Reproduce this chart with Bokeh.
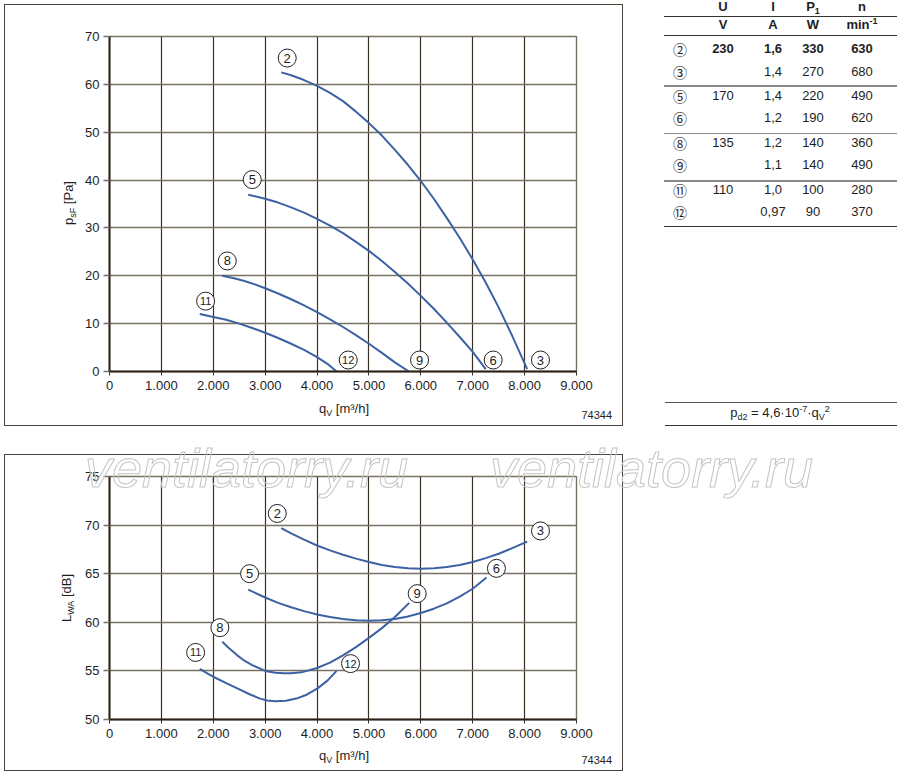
from bokeh.plotting import figure
from bokeh.models import FixedTicker, Div, Range1d
from bokeh.layouts import column
from bokeh.embed import file_html
from bokeh.resources import INLINE
from bokeh.core.properties import value

FONT = "Liberation Sans"
TXT = "#1e1e1e"
BLUE = "#3c62a4"
VGRID = "#3a3024"
HGRID = "#7a7165"
AXIS = "#2a2216"
BORDER = "#4a443a"

# ---------------- data ----------------
x_ticks = [0, 1000, 2000, 3000, 4000, 5000, 6000, 7000, 8000, 9000]
x_tick_labels = ["0", "1.000", "2.000", "3.000", "4.000", "5.000", "6.000", "7.000", "8.000", "9.000"]
p_ticks = [0, 10, 20, 30, 40, 50, 60, 70]
L_ticks = [50, 55, 60, 65, 70, 75]

curve_ids = ["2", "3", "5", "6", "8", "9", "11", "12"]

# static pressure p_sF [Pa] vs q_V [m3/h] (top)
psf_q_2 = [3310, 3500, 3750, 4000, 4250, 4500, 4750, 5000, 5250, 5500, 5750, 6000, 6250,
           6500, 6750, 7000, 7250, 7500, 7750, 8050]
psf_p_2 = [62.5, 61.9, 60.9, 59.7, 58.2, 56.5, 54.3, 51.9, 49.3, 46.3, 43.2, 39.8, 36.1,
           32.1, 27.9, 23.4, 18.6, 13.4, 7.7, 0.5]
psf_q_5 = [2674, 3000, 3250, 3500, 3750, 4000, 4250, 4500, 4750, 5000, 5250, 5500, 5750,
           6000, 6250, 6500, 6750, 7000, 7250]
psf_p_5 = [36.95, 36.1, 35.3, 34.3, 33.2, 31.9, 30.5, 28.9, 27.1, 25.2, 23.1, 20.8, 18.4,
           15.8, 13.1, 10.2, 7.2, 4.1, 0.5]
psf_q_8 = [2173, 2400, 2600, 2800, 3000, 3250, 3500, 3750, 4000, 4250, 4500, 4750, 5000,
           5250, 5500, 5770]
psf_p_8 = [20.0, 19.5, 18.9, 18.2, 17.4, 16.3, 15.1, 13.8, 12.4, 10.9, 9.3, 7.6, 5.8,
           3.9, 1.9, 0.0]
psf_q_11 = [1740, 2000, 2250, 2500, 2750, 3000, 3250, 3500, 3750, 4000, 4200, 4376]
psf_p_11 = [12.0, 11.4, 10.8, 10.0, 9.1, 8.1, 7.0, 5.8, 4.5, 3.0, 1.6, 0.0]

# sound power L_WA [dB] vs q_V [m3/h] (bottom)
lwa_q_2 = [3310, 3500, 3750, 4000, 4250, 4500, 4750, 5000, 5250, 5500, 5750, 6000, 6250,
           6500, 6750, 7000, 7250, 7500, 7750, 8050]
lwa_L_2 = [69.7, 69.15, 68.5, 67.9, 67.4, 66.95, 66.55, 66.2, 65.9, 65.7, 65.55, 65.5, 65.55,
           65.7, 65.9, 66.2, 66.6, 67.05, 67.6, 68.3]
lwa_q_5 = [2674, 3000, 3250, 3500, 3750, 4000, 4250, 4500, 4750, 5000, 5250, 5500, 5750,
           6000, 6250, 6500, 6750, 7000, 7266]
lwa_L_5 = [63.36, 62.55, 62.0, 61.55, 61.15, 60.8, 60.55, 60.35, 60.2, 60.15, 60.2, 60.35, 60.6,
           60.95, 61.4, 61.95, 62.65, 63.45, 64.6]
lwa_q_8 = [2173, 2300, 2462, 2600, 2750, 3000, 3200, 3360, 3500, 3700, 4000, 4250, 4500,
           4750, 5000, 5250, 5500, 5776]
lwa_L_8 = [58.0, 57.35, 56.6, 56.05, 55.6, 55.0, 54.8, 54.75, 54.75, 54.85, 55.3, 55.85, 56.6,
           57.45, 58.4, 59.4, 60.55, 62.0]
lwa_q_11 = [1740, 1900, 2000, 2250, 2462, 2700, 2900, 3040, 3200, 3400, 3600, 3800, 4010,
            4200, 4376]
lwa_L_11 = [55.2, 54.7, 54.4, 53.75, 53.2, 52.6, 52.15, 51.95, 51.87, 51.92, 52.15, 52.55, 53.2,
            54.0, 55.0]

# curve-number marker positions
top_lbl_q = [3425, 8306, 2751, 7395, 2270, 5975, 1852, 4601]
top_lbl_p = [65.5, 2.4, 40.1, 2.4, 23.1, 2.4, 14.7, 2.4]
bot_lbl_q = [3233, 8306, 2700, 7457, 2127, 5930, 1660, 4645]
bot_lbl_L = [71.2, 69.4, 65.0, 65.55, 59.45, 62.95, 56.9, 55.75]

# table
tbl_curve = ["②", "③", "⑤", "⑥", "⑧", "⑨", "⑪", "⑫"]
tbl_U = ["230", "", "170", "", "135", "", "110", ""]
tbl_I = ["1,6", "1,4", "1,4", "1,2", "1,2", "1,1", "1,0", "0,97"]
tbl_P = ["330", "270", "220", "190", "140", "140", "100", "90"]
tbl_n = ["630", "680", "490", "620", "360", "490", "280", "370"]
tbl_head = ["U", "I", "P<sub style='font-size:9px;vertical-align:-3px;line-height:0'>1</sub>", "n"]
tbl_units = ["V", "A", "W", "min<sup style='font-size:9px;vertical-align:5px;line-height:0'>-1</sup>"]

SUB = "font-size:9px;vertical-align:-3px;line-height:0"
SUP = "font-size:9px;vertical-align:5px;line-height:0"
label_p = f"p<sub style='{SUB}'>sF</sub> [Pa]"
label_L = f"L<sub style='{SUB}'>WA</sub> [dB]"
label_q = f"q<sub style='{SUB}'>V</sub> [m³/h]"
drawing_no = "74344"
formula = (f"p<sub style='{SUB}'>d2</sub> = 4,6·10<sup style='{SUP}'>-7</sup>"
           f"·q<sub style='{SUB}'>V</sub><sup style='{SUP}'>2</sup>")
watermark = "ventilatorry.ru"


def style(p, yticks):
    p.background_fill_color = "white"
    p.border_fill_color = "white"
    p.outline_line_color = HGRID
    p.outline_line_width = 1.4
    p.xgrid.ticker = FixedTicker(ticks=x_ticks)
    p.ygrid.ticker = FixedTicker(ticks=yticks)
    p.xgrid.grid_line_color = VGRID
    p.xgrid.grid_line_width = 1.2
    p.ygrid.grid_line_color = HGRID
    p.ygrid.grid_line_width = 1.5
    p.xaxis.ticker = FixedTicker(ticks=x_ticks)
    p.xaxis.major_label_overrides = {t: s for t, s in zip(x_ticks, x_tick_labels)}
    p.yaxis.ticker = FixedTicker(ticks=yticks)
    for ax in (p.xaxis, p.yaxis):
        ax.axis_line_color = AXIS
        ax.axis_line_width = 2
        ax.minor_tick_line_color = None
        ax.major_tick_in = 0
        ax.major_label_text_font = FONT
        ax.major_label_text_font_size = "13px"
        ax.major_label_text_color = TXT
    p.xaxis.major_tick_out = 4
    p.xaxis.major_tick_line_color = VGRID
    p.xaxis.major_label_standoff = 5
    p.yaxis.major_tick_out = 6
    p.yaxis.major_tick_line_color = HGRID
    p.yaxis.major_tick_line_width = 1.4
    p.yaxis.major_label_standoff = 4


def markers(p, qs, vs):
    p.scatter(qs, vs, marker="circle", size=18, fill_color="white",
              line_color="#222222", line_width=1)
    one = [i for i, c in enumerate(curve_ids) if len(c) == 1]
    two = [i for i, c in enumerate(curve_ids) if len(c) == 2]
    p.text([qs[i] for i in one], [vs[i] for i in one], text=[curve_ids[i] for i in one],
           text_align="center", text_baseline="middle", text_font=value(FONT),
           text_font_size="13px", text_color=TXT)
    p.text([qs[i] for i in two], [vs[i] for i in two], text=[curve_ids[i] for i in two],
           text_align="center", text_baseline="middle", text_font=value(FONT),
           text_font_size="11px", text_color=TXT)


# ---------------- top chart ----------------
top = figure(width=623, height=454, x_range=Range1d(0, 9000), y_range=Range1d(0, 70),
             output_backend="svg", toolbar_location=None, title=None,
             min_border_left=109, min_border_right=47, min_border_top=36, min_border_bottom=83)
style(top, p_ticks)
for q, v in ((psf_q_2, psf_p_2), (psf_q_5, psf_p_5), (psf_q_8, psf_p_8), (psf_q_11, psf_p_11)):
    top.line(q, v, line_color=BLUE, line_width=2, line_join="round")
markers(top, top_lbl_q, top_lbl_p)

# ---------------- bottom chart ----------------
bot = figure(width=623, height=317, x_range=Range1d(0, 9000), y_range=Range1d(50, 75),
             output_backend="svg", toolbar_location=None, title=None,
             min_border_left=109, min_border_right=47, min_border_top=22, min_border_bottom=52)
style(bot, L_ticks)
for q, v in ((lwa_q_2, lwa_L_2), (lwa_q_5, lwa_L_5), (lwa_q_8, lwa_L_8), (lwa_q_11, lwa_L_11)):
    bot.line(q, v, line_color=BLUE, line_width=2, line_join="round")
markers(bot, bot_lbl_q, bot_lbl_L)

# ---------------- HTML overlay: frames, axis titles, table, formula ----------------
BASE = f"font-family:'{FONT}';font-size:13px;color:{TXT};white-space:nowrap;"


def box(left, top_, w, h, color, bw=1.5):
    return (f'<div style="position:absolute;left:{left}px;top:{top_}px;width:{w}px;height:{h}px;'
            f'border:{bw}px solid {color};box-sizing:border-box;"></div>')


def hline(x0, x1, y, color, w=1.3):
    return (f'<div style="position:absolute;left:{x0}px;top:{y - w / 2}px;width:{x1 - x0}px;'
            f'height:{w}px;background:{color};"></div>')


def ctext(cx, cy, t, bold=False, font=FONT, size=13, rot=False, w=140, lh=20):
    wt = "bold" if bold else "normal"
    tr = "transform:rotate(-90deg);" if rot else ""
    return (f'<div style="position:absolute;left:{cx - w / 2}px;top:{cy - lh / 2}px;width:{w}px;'
            f'height:{lh}px;line-height:{lh}px;text-align:center;{BASE}font-family:\'{font}\';'
            f'font-size:{size}px;font-weight:{wt};{tr}">{t}</div>')


def rtext(right, top_, t, size=11):
    return (f'<div style="position:absolute;left:{right - 80}px;top:{top_}px;width:80px;height:14px;'
            f'line-height:14px;text-align:right;{BASE}font-size:{size}px;">{t}</div>')


parts = []
# panel frames
parts.append(box(4, 4, 619, 422, BORDER))
parts.append(box(4, 454, 619, 317, BORDER))
# axis titles
parts.append(ctext(68.5, 203, label_p, rot=True))
parts.append(ctext(344, 409, label_q))
parts.append(rtext(612, 407.5, drawing_no))
parts.append(ctext(67, 598, label_L, rot=True))
parts.append(ctext(344, 755.5, label_q))
parts.append(rtext(612, 753, drawing_no))
# watermark
for wx in (85, 490):
    parts.append(f'<div style="position:absolute;left:{wx}px;top:441px;font-family:\'{FONT}\';'
                 f'font-size:54px;line-height:54px;font-style:italic;white-space:nowrap;'
                 f'color:transparent;-webkit-text-stroke:1px #c4c4c4;">{watermark}</div>')
# table
col_x = [680, 723, 773, 813, 862]
row_y = [49, 71.7, 96, 118, 143, 165, 190, 211.7]
for j, t in enumerate(tbl_head):
    parts.append(ctext(col_x[j + 1], 6.7, t, bold=True, w=70))
parts.append(hline(664, 897, 16.7, "#333333", 1.5))
for j, t in enumerate(tbl_units):
    parts.append(ctext(col_x[j + 1], 25, t, bold=True, w=70))
parts.append(hline(664, 897, 35.7, "#333333"))
for i in range(len(tbl_curve)):
    b = i == 0
    parts.append(ctext(col_x[0], row_y[i], tbl_curve[i], font="Noto Sans CJK JP", size=14, w=40))
    parts.append(ctext(col_x[1], row_y[i], tbl_U[i], bold=b, w=60))
    parts.append(ctext(col_x[2], row_y[i], tbl_I[i], bold=b, w=60))
    parts.append(ctext(col_x[3], row_y[i], tbl_P[i], bold=b, w=60))
    parts.append(ctext(col_x[4], row_y[i], tbl_n[i], bold=b, w=60))
for y in (86, 133.3, 181):
    parts.append(hline(664, 897, y, "#8a8a8a"))
parts.append(hline(664, 897, 226.7, "#333333"))
# formula
parts.append(hline(665, 897, 402.3, "#555555"))
parts.append(hline(665, 897, 425.7, "#333333"))
parts.append(ctext(780, 413, formula, w=200))

html = ('<div style="position:relative;width:898px;height:771px;overflow:visible;">'
        + "".join(parts) + '</div>')
overlay = Div(text=html, width=898, height=771, margin=(-771, 0, 0, 0))

layout = column(top, bot, overlay)
open("out.html", "w").write(file_html(layout, INLINE))
